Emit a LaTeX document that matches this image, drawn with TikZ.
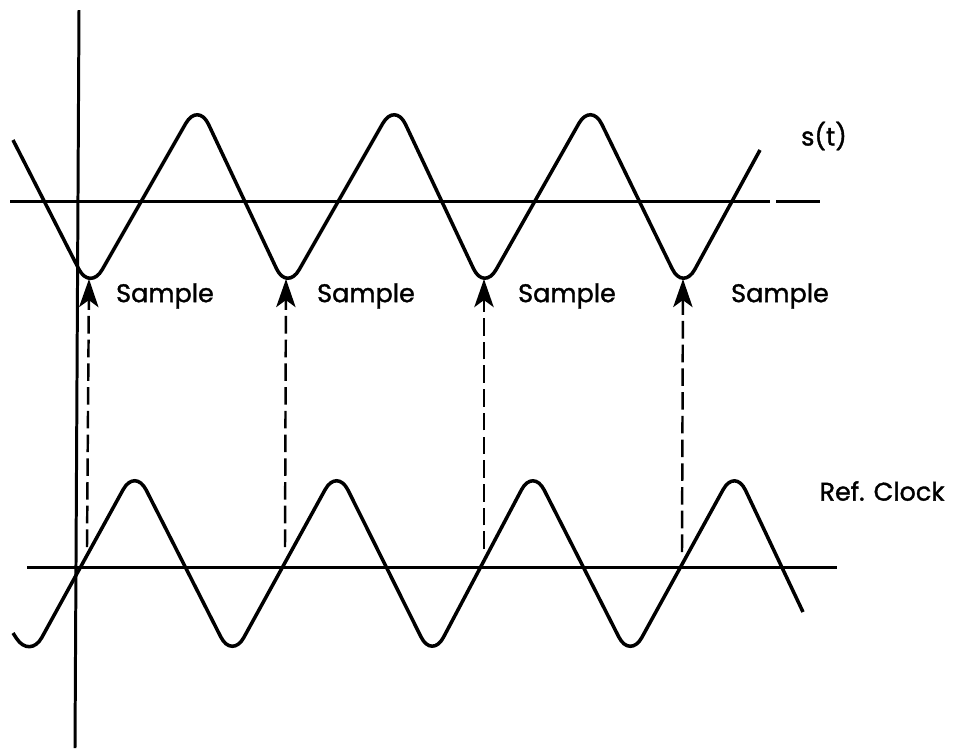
\documentclass[tikz,border=0pt]{standalone}
\usepackage{fontspec}
\setmainfont{Poppins}
\newfontfamily\lblfont{Poppins}[FakeBold=1.4]
\usetikzlibrary{arrows.meta}

\begin{document}
\begin{tikzpicture}[
    x=0.02cm, y=-0.02cm,
    axis/.style={line width=1.7pt},
    wave/.style={line width=2pt, rounded corners=14pt},
    sampleline/.style={line width=1.4pt, dash pattern=on 10pt off 3.5pt,
        -{Stealth[length=16pt, width=11pt, inset=4pt]}},
    lbl/.style={font=\lblfont\fontsize{14.5}{16}\selectfont, inner sep=0pt}
]
    \useasboundingbox (0,0) rectangle (961,752);

    % Axes
    \coordinate (vtop) at (79,10);
    \coordinate (vbot) at (75,748);
    \draw[axis] (vtop) -- (vbot);
    \coordinate (sleft) at (10,201);
    \coordinate (sgap1) at (770,201);
    \coordinate (sgap2) at (776,201);
    \coordinate (sright) at (820,201);
    \draw[axis] (sleft) -- (sgap1);
    \draw[axis] (sgap2) -- (sright);
    \coordinate (cleft) at (27,567);
    \coordinate (cright) at (837,567);
    \draw[axis] (cleft) -- (cright);

    % Signal s(t)
    \draw[wave] (13,140) -- (90,291) -- (198,102) -- (287,291) -- (395,102)
        -- (484,291) -- (591,102) -- (683,291) -- (760,150);

    % Reference clock
    \draw[wave] (13,633) -- (30,659) -- (135,468) -- (232,659) -- (337,468)
        -- (432,659) -- (533,468) -- (630,659) -- (735,468) -- (803,612);

    % Sample points
    \coordinate (smp1) at (89,279);
    \coordinate (smp2) at (286,279);
    \coordinate (smp3) at (484,279);
    \coordinate (smp4) at (683,279);
    \coordinate (clk1) at (87,547);
    \coordinate (clk2) at (285,547);
    \coordinate (clk3) at (484,549);
    \coordinate (clk4) at (682,552);

    \draw[sampleline] (clk1) -- (smp1);
    \draw[sampleline] (clk2) -- (smp2);
    \draw[sampleline] (clk3) -- (smp3);
    \draw[sampleline] (clk4) -- (smp4);

    % Labels
    \node[lbl] (lsmp1) at (165,296) {Sample};
    \node[lbl] (lsmp2) at (366,296) {Sample};
    \node[lbl] (lsmp3) at (567,296) {Sample};
    \node[lbl] (lsmp4) at (780,296) {Sample};
    \node[lbl] (lsig) at (824,136) {s(t)};
    \node[lbl] (lclk) at (882,491) {Ref. Clock};
\end{tikzpicture}
\end{document}
